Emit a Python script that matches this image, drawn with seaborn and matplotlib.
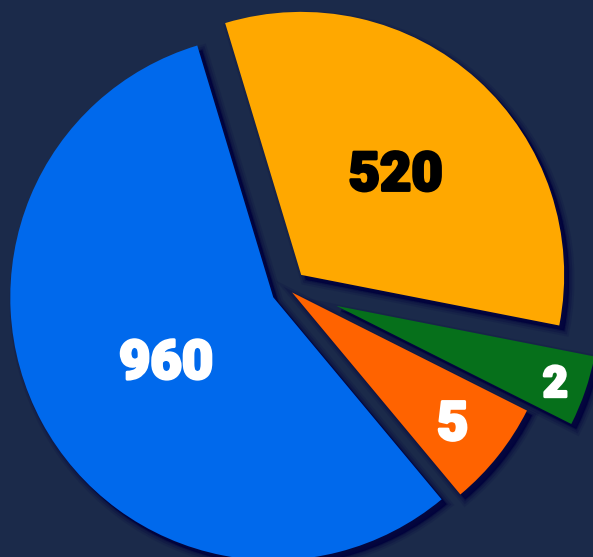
import numpy as np
import matplotlib
matplotlib.use("Agg")
import matplotlib.pyplot as plt
import matplotlib.patheffects as pe
import seaborn as sns

# slices clockwise from the top, with the angle each one takes in the picture
labels = ["520", "2", "5", "960"]
slice_deg = [117.9, 15.6, 23.5, 203.0]
colors = ["#FFA800", "#06701B", "#FF6300", "#0069EC"]
text_colors = ["black", "white", "white", "white"]
explode = [0.074, 0.194, 0.019, 0.064]

# label placement inside each slice
label_r = [0.535, 0.88, 0.78, 0.47]
label_turn = [0, 0, 0, 1.5]
label_size = [39, 31, 39, 39]

bg = "#1B2A4A"
sns.set_theme(style="white", rc={"figure.facecolor": bg, "axes.facecolor": bg})
plt.rcParams["font.family"] = ["Roboto", "DejaVu Sans"]

fig = plt.figure(figsize=(5.93, 5.57), dpi=100)
ax = fig.add_axes([0, 0, 1, 1])

# soft drop shadow under every slice, cast to the lower right
shadow_col = "#00003C"
shadow = [pe.SimplePatchShadow(offset=(3.5, -3.5), shadow_rgbFace=shadow_col,
                               foreground=shadow_col, linewidth=lw, alpha=a)
          for lw, a in [(8, 0.12), (5, 0.2), (2, 0.3), (0.1, 0.6)]]
shadow.append(pe.Normal())

wedges, _ = ax.pie(slice_deg, colors=colors, explode=explode,
                   startangle=106.8, counterclock=False, radius=1.0,
                   wedgeprops=dict(linewidth=0, path_effects=shadow))

for w, lab, r, turn, fs, tc in zip(wedges, labels, label_r, label_turn,
                                   label_size, text_colors):
    ang = np.deg2rad((w.theta1 + w.theta2) / 2 + turn)
    x = w.center[0] + r * np.cos(ang)
    y = w.center[1] + r * np.sin(ang)
    ax.text(x, y, lab, ha="center", va="center_baseline", fontsize=fs,
            fontweight="black", color=tc,
            path_effects=[pe.withStroke(linewidth=2, foreground=tc)])

R = 263.0
ax.set_xlim(-288.1 / R, (593 - 288.1) / R)
ax.set_ylim(-(557 - 289.3) / R, 289.3 / R)
ax.set_aspect("equal")
ax.axis("off")

fig.savefig("out.png", dpi=100, facecolor=bg)
